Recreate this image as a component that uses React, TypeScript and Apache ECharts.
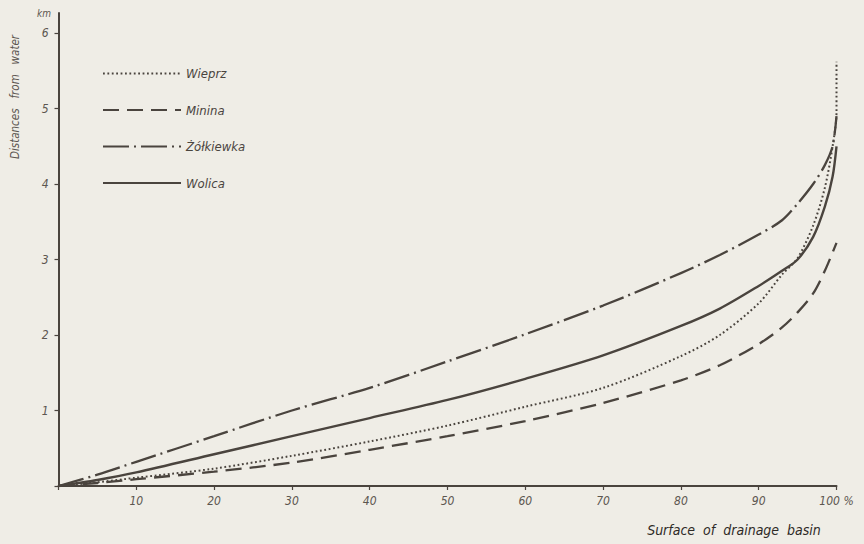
import React, { useEffect, useRef } from "react";
import * as echarts from "echarts";

// Surface of drainage basin (%) vs distance from water (km)
const wieprzX = [0, 5, 10, 20, 30, 40, 50, 60, 70, 80, 85, 90, 93, 95, 97, 98.5, 99.5, 100, 100];
const wieprzY = [0, 0.05, 0.11, 0.23, 0.4, 0.59, 0.8, 1.05, 1.3, 1.72, 2.0, 2.42, 2.8, 3.02, 3.45, 3.95, 4.5, 4.95, 5.62];

const mininaX = [0, 5, 10, 20, 30, 40, 50, 60, 70, 80, 85, 90, 93, 95, 97, 98.5, 100];
const mininaY = [0, 0.04, 0.09, 0.19, 0.31, 0.48, 0.66, 0.86, 1.1, 1.4, 1.6, 1.88, 2.1, 2.3, 2.55, 2.85, 3.22];

const zolkiewkaX = [0, 5, 10, 20, 30, 40, 50, 60, 70, 80, 85, 90, 93, 95, 97, 98.5, 99.5, 100];
const zolkiewkaY = [0, 0.15, 0.32, 0.66, 1.0, 1.3, 1.65, 2.01, 2.39, 2.82, 3.06, 3.33, 3.52, 3.74, 4.0, 4.25, 4.5, 4.9];

const wolicaX = [0, 5, 10, 20, 30, 40, 50, 60, 70, 80, 85, 90, 93, 95, 97, 98.5, 99.5, 100];
const wolicaY = [0, 0.08, 0.18, 0.42, 0.66, 0.9, 1.14, 1.42, 1.73, 2.12, 2.35, 2.65, 2.85, 3.0, 3.3, 3.7, 4.1, 4.5];

const seriesNames = ["Wieprz", "Minina", "Żółkiewka", "Wolica"];
const xTickValues = [0, 10, 20, 30, 40, 50, 60, 70, 80, 90, 100];
const yTickValues = [0, 1, 2, 3, 4, 5, 6];
const yLabelValues = [1, 2, 3, 4, 5, 6];

const zip = (xs: number[], ys: number[]) => xs.map((x, i) => [x, ys[i]]);

const INK = "#4a443e";
const FONT = "'DejaVu Sans Condensed', 'DejaVu Sans', sans-serif";

export default function App() {
  const ref = useRef<HTMLDivElement>(null);
  useEffect(() => {
    if (!ref.current) return;
    const chart = echarts.init(ref.current, null, { renderer: "svg" });
    const lineBase = { type: "line", symbol: "none", showSymbol: false, smooth: 0.3, z: 3 };
    chart.setOption({
      animation: false,
      backgroundColor: "#efede6",
      grid: { left: 58.5, right: 27.5, top: 13, bottom: 58 },
      xAxis: {
        type: "value",
        min: 0,
        max: 100,
        interval: 10,
        axisLine: { lineStyle: { color: INK, width: 2 } },
        axisTick: { show: true, length: 4, lineStyle: { color: INK, width: 1.2 }, customValues: xTickValues },
        axisLabel: {
          margin: 9,
          color: "#5c5650",
          fontSize: 12,
          fontStyle: "italic",
          fontFamily: FONT,
          customValues: xTickValues.slice(1),
          formatter: (v: number) => (v === 100 ? "100 %" : String(v)),
        },
        splitLine: { show: false },
      },
      yAxis: {
        type: "value",
        min: 0,
        max: 6.265,
        interval: 1,
        axisLine: { show: true, lineStyle: { color: INK, width: 2 } },
        axisTick: { show: true, length: 4, lineStyle: { color: INK, width: 1.2 }, customValues: yTickValues },
        axisLabel: {
          margin: 10,
          color: "#5c5650",
          fontSize: 12,
          fontStyle: "italic",
          fontFamily: FONT,
          customValues: yLabelValues,
        },
        splitLine: { show: false },
      },
      legend: {
        orient: "vertical",
        left: 97,
        top: 62,
        itemWidth: 78,
        itemHeight: 14,
        itemGap: 23.5,
        data: seriesNames,
        itemStyle: { opacity: 0 },
        textStyle: {
          color: INK,
          fontSize: 13,
          fontStyle: "italic",
          fontFamily: FONT,
        },
      },
      graphic: [
        {
          type: "text",
          x: 15,
          y: 97,
          rotation: Math.PI / 2,
          style: {
            text: "Distances   from   water",
            fill: "#5c5650",
            font: `italic 11.5px ${FONT}`,
            align: "center",
            verticalAlign: "middle",
          },
        },
        {
          type: "text",
          x: 44,
          y: 13,
          style: {
            text: "km",
            fill: "#5c5650",
            font: `italic 10px ${FONT}`,
            align: "center",
            verticalAlign: "middle",
          },
        },
        {
          type: "text",
          x: 734,
          y: 530,
          style: {
            text: "Surface  of  drainage  basin",
            fill: "#2e2a26",
            font: `italic 14px ${FONT}`,
            align: "center",
            verticalAlign: "middle",
          },
        },
      ],
      series: [
        {
          ...lineBase,
          name: seriesNames[0],
          data: zip(wieprzX, wieprzY),
          lineStyle: { color: INK, width: 2, type: [1.8, 2.6], cap: "butt" },
          itemStyle: { color: INK },
        },
        {
          ...lineBase,
          name: seriesNames[1],
          data: zip(mininaX, mininaY),
          lineStyle: { color: INK, width: 2.3, type: [16, 8] },
          itemStyle: { color: INK },
        },
        {
          ...lineBase,
          name: seriesNames[2],
          data: zip(zolkiewkaX, zolkiewkaY),
          lineStyle: { color: INK, width: 2.3, type: [26, 5, 2, 5] },
          itemStyle: { color: INK },
        },
        {
          ...lineBase,
          name: seriesNames[3],
          data: zip(wolicaX, wolicaY),
          lineStyle: { color: INK, width: 2.4, type: "solid" },
          itemStyle: { color: INK },
        },
      ],
    });
    return () => chart.dispose();
  }, []);
  return (
    <div style={{ position: "fixed", left: 0, top: 0, width: 864, height: 544, background: "#efede6" }}>
      <div ref={ref} style={{ width: 864, height: 544 }} />
    </div>
  );
}
